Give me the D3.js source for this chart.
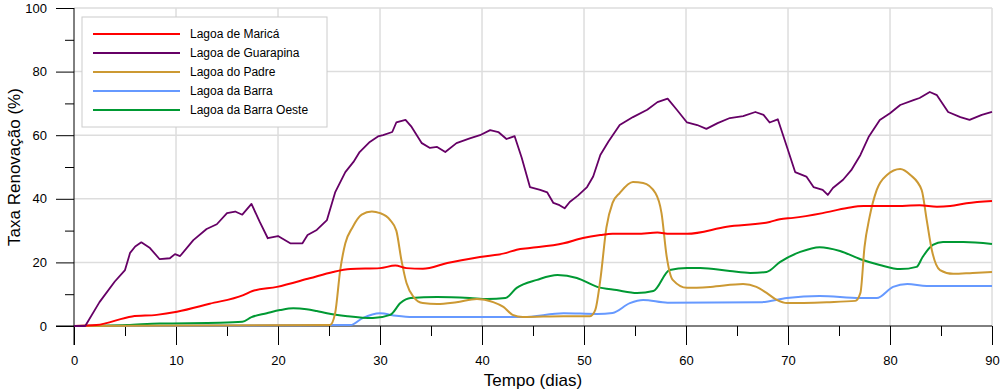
<!DOCTYPE html>
<html>
<head>
<meta charset="utf-8">
<script src="https://cdn.jsdelivr.net/npm/d3@7"></script>
<style>
  body { margin: 0; background: #fff; }
  text { font-family: Arial, "Liberation Sans", sans-serif; }
</style>
</head>
<body>
<svg id="chart"></svg>
<script>
// Chart size
const width = 1000;
const height = 390;
const margin = { top: 8, right: 8, bottom: 64, left: 74 };

// Series data: [dia, taxa %]
const marica = [[0,0],[2.2,0.3],[5.7,3],[8.1,3.5],[10.1,4.5],[13.3,7],[16.6,9.7],[17.5,11],[19.9,12.3],[23.1,15],[25.4,17],[27.1,17.9],[30,18.2],[31.5,19],[32.6,18.2],[34.2,18],[36.6,19.8],[39.8,21.7],[42.4,23],[43.4,24],[44.7,24.5],[48,26],[49.9,27.7],[51.6,28.6],[52.8,29],[55.2,29],[57.2,29.4],[58.4,29],[60.1,29],[64,31.2],[68.2,32.7],[69.2,33.6],[70.5,34],[73.4,35.5],[75.8,37.1],[77.4,37.7],[80.3,37.7],[82.9,38],[84.6,37.5],[85.9,37.7],[87.5,38.6],[90,39.3]];

const guarapina = [[0,0],[1.1,0],[2.5,7.5],[4.0,14],[5.0,17.6],[5.5,23],[6.0,25],[6.6,26.3],[7.45,24.5],[8.4,21],[9.4,21.3],[9.9,22.6],[10.4,22],[11.7,27],[13.0,30.5],[14.0,32],[15.0,35.5],[15.8,36],[16.5,35],[17.4,38.4],[18.2,32.8],[19.0,27.6],[20.0,28.3],[21.2,26],[22.4,26],[22.9,28.6],[23.8,30.2],[24.8,33.3],[25.6,42],[26.6,48.4],[27.4,51.6],[28.0,54.7],[29.0,57.9],[29.8,59.6],[30.3,60],[31.2,61],[31.6,64],[32.5,64.8],[33.1,62.6],[34.1,57.5],[34.9,56],[35.6,56.3],[36.4,54.7],[37.5,57.5],[38.8,59],[39.8,60],[40.8,61.6],[41.6,61],[42.4,58.8],[43.2,59.7],[43.9,52.8],[44.7,43.7],[45.7,42.8],[46.4,42],[47.0,38.7],[47.6,38],[48.1,37],[48.6,39],[49.4,41],[50.3,43.7],[50.9,47],[51.6,53.8],[52.4,58],[53.5,63.2],[54.8,65.7],[56.2,68],[57.2,70.4],[58.2,71.5],[59.1,68],[60.1,64],[61.1,63.2],[62.0,62],[63.1,63.8],[64.3,65.4],[65.6,66],[66.8,67.3],[67.6,66.4],[68.2,64],[69.0,65],[69.9,56.3],[70.7,48.4],[71.8,47],[72.5,43.7],[73.4,42.8],[73.9,41.2],[74.4,43.4],[75.4,46],[76.2,49],[77.1,53.8],[77.9,59.4],[79.0,64.8],[80.0,66.9],[81.0,69.5],[82.3,71],[82.9,71.7],[83.9,73.6],[84.6,72.6],[85.7,67.3],[86.9,65.7],[87.8,64.8],[89.0,66.4],[90,67.3]];

const padre = [[0,0],[25.1,0.3],[25.6,4],[26.1,17.6],[26.6,26],[27.3,31],[28.2,35],[29.2,36],[30.0,35.5],[31,33.3],[31.6,30],[32.1,20.7],[32.6,13.5],[33.3,9.1],[34.2,7.2],[35.6,6.9],[37.5,7.5],[39.5,8.5],[41.1,7.5],[42.1,6],[43.0,3.5],[44.0,2.8],[48,3.1],[50.6,3.1],[51.1,5],[51.6,14.5],[52.2,31],[52.8,38.7],[53.5,41.8],[54.8,45.3],[55.8,45],[57.0,41.8],[57.6,35.5],[58.1,22],[58.7,14.5],[60.1,12],[62.4,12.3],[65.6,13.2],[66.9,12.3],[67.9,10.4],[68.9,8.2],[69.9,7.2],[73.8,7.5],[76.6,7.9],[77.1,10.4],[77.5,24.8],[78,34.3],[78.7,42.8],[79.7,47.5],[81,49.4],[82,47.5],[83.1,42.8],[83.6,33.3],[84.1,23.9],[84.9,17.6],[86.2,16.4],[88.1,16.7],[90,17]];

const barra = [[0,0],[10,0.1],[20,0.2],[25,0.3],[27.1,0.3],[28.3,2.5],[30,4],[31.6,3.2],[33.2,2.8],[40.8,2.8],[44,2.8],[48,4],[51.3,3.8],[52.8,4.1],[54.5,7.2],[55.8,8.2],[58.2,7.3],[67.3,7.5],[69.9,8.8],[73.1,9.4],[77.1,8.8],[78.7,8.8],[80.3,12.3],[81.7,13.2],[83.6,12.6],[90,12.6]];

const barraOeste = [[0,0],[5.2,0.3],[8.4,0.8],[14.3,1.0],[16.5,1.3],[17.4,2.8],[18.9,4],[20.2,5],[21.5,5.6],[22.8,5.3],[23.8,4.7],[24.8,4],[26.8,3.1],[29.3,2.5],[31,3.5],[32,7.2],[33,8.8],[35.6,9.1],[38.8,8.8],[40.5,8.5],[42.3,8.8],[43.4,12],[45.4,14.5],[47.4,16],[49.3,15.1],[51.3,12.3],[53.2,11.3],[55.2,10.4],[56.8,11],[58.4,17.6],[60.1,18.2],[61.4,18.2],[64.3,17.3],[66.3,16.7],[67.9,17],[69.2,20.1],[71.2,23.3],[73.1,24.8],[75.1,23.6],[77.1,21],[79,19.2],[81,17.9],[82.6,18.6],[83.2,21.7],[84.2,25.5],[85.2,26.4],[87.2,26.4],[90,25.8]];

const seriesNames = ["Lagoa de Maricá", "Lagoa de Guarapina", "Lagoa do Padre", "Lagoa da Barra", "Lagoa da Barra Oeste"];
const seriesData = [marica, guarapina, padre, barra, barraOeste];
const seriesColors = ["#ff0000", "#660066", "#cc9933", "#6699ff", "#009933"];

const xTicks = [0, 10, 20, 30, 40, 50, 60, 70, 80, 90];
const yTicks = [0, 20, 40, 60, 80, 100];

const svg = d3.select("#chart")
    .attr("width", width)
    .attr("height", height);

const x = d3.scaleLinear().domain([0, 90]).range([margin.left, width - margin.right]);
const y = d3.scaleLinear().domain([0, 100]).range([height - margin.bottom, margin.top]);

// Gridlines
svg.selectAll(".vgrid")
    .data(xTicks.slice(1))
    .enter()
    .append("line")
    .attr("x1", d => x(d)).attr("x2", d => x(d))
    .attr("y1", y(100)).attr("y2", y(0))
    .style("stroke", "#cccccc")
    .style("stroke-width", 1);

svg.selectAll(".hgrid")
    .data(yTicks.slice(1))
    .enter()
    .append("line")
    .attr("x1", x(0)).attr("x2", x(90))
    .attr("y1", d => y(d)).attr("y2", d => y(d))
    .style("stroke", "#dddddd")
    .style("stroke-width", 1.5);

// Axes
const xAxis = svg.append("g")
    .attr("transform", `translate(0,${y(0)})`)
    .call(d3.axisBottom(x).tickValues(d3.range(0, 91, 5)).tickSize(18).tickFormat(d => d % 10 === 0 ? d : ""));
xAxis.select(".domain").remove();
xAxis.selectAll(".tick line").attr("y2", d => d % 10 === 0 ? 19 : 10).style("stroke", "#000");
xAxis.selectAll(".tick text").attr("y", 30).style("font-size", "13px").style("font-family", "Arial, 'Liberation Sans', sans-serif");

const yAxis = svg.append("g")
    .attr("transform", `translate(${x(0)},0)`)
    .call(d3.axisLeft(y).tickValues(d3.range(0, 101, 10)).tickSize(18).tickFormat(d => d % 20 === 0 ? d : ""));
yAxis.select(".domain").remove();
yAxis.selectAll(".tick line").attr("x2", d => d % 20 === 0 ? -18 : -9).style("stroke", "#000");
yAxis.selectAll(".tick text").attr("x", -27).style("font-size", "13px").style("font-family", "Arial, 'Liberation Sans', sans-serif");

// Axis lines
svg.append("line")
    .attr("x1", x(0)).attr("x2", x(0))
    .attr("y1", y(100)).attr("y2", y(0) + 19)
    .style("stroke", "#000");
svg.append("line")
    .attr("x1", x(0) - 18).attr("x2", x(90))
    .attr("y1", y(0)).attr("y2", y(0))
    .style("stroke", "#000");

// Lines
const smooth = d3.line().x(d => x(d[0])).y(d => y(d[1])).curve(d3.curveMonotoneX);
const jagged = d3.line().x(d => x(d[0])).y(d => y(d[1]));

const order = [3, 4, 2, 0, 1];
order.forEach(i => {
    svg.append("path")
        .datum(seriesData[i])
        .attr("d", i === 1 ? jagged : smooth)
        .style("fill", "none")
        .style("stroke", seriesColors[i])
        .style("stroke-width", i === 1 ? 1.8 : 2)
        .style("stroke-linejoin", "round");
});

// Legend
const legend = svg.append("g").attr("transform", "translate(82,17)");
legend.append("rect")
    .attr("width", 245).attr("height", 110)
    .style("fill", "#fff")
    .style("stroke", "#cccccc");
seriesNames.forEach((name, i) => {
    const ly = 17 + i * 19;
    legend.append("line")
        .attr("x1", 11).attr("x2", 98)
        .attr("y1", ly).attr("y2", ly)
        .style("stroke", seriesColors[i])
        .style("stroke-width", 2);
    legend.append("text")
        .attr("x", 108).attr("y", ly)
        .attr("dy", "0.35em")
        .style("font-size", "12px")
        .text(name);
});

// Axis titles
svg.append("text")
    .attr("x", x(45))
    .attr("y", 386)
    .attr("text-anchor", "middle")
    .style("font-size", "17px")
    .text("Tempo (dias)");

svg.append("text")
    .attr("transform", `translate(20,${y(50)}) rotate(-90)`)
    .attr("text-anchor", "middle")
    .style("font-size", "17px")
    .text("Taxa Renovação (%)");
</script>
</body>
</html>
